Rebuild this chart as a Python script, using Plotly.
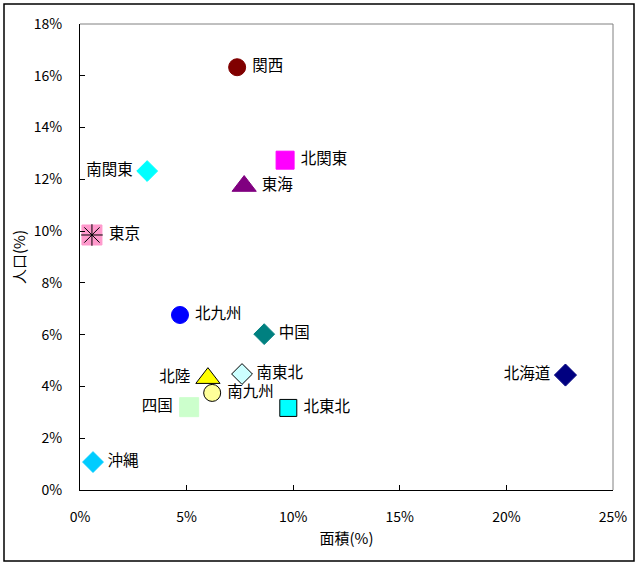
import plotly.graph_objects as go

regions = ["関西", "北関東", "南関東", "東海", "東京", "北九州", "中国", "北陸",
           "南東北", "南九州", "四国", "北東北", "沖縄", "北海道"]
area = [7.37, 9.62, 3.15, 7.7, 0.56, 4.69, 8.64, 6.0, 7.6, 6.2, 5.12, 9.77, 0.61, 22.77]
pop = [16.33, 12.74, 12.32, 11.74, 9.85, 6.76, 6.02, 4.32, 4.48, 3.75, 3.2, 3.17, 1.08, 4.44]
symbols = ["circle", "square", "diamond", "triangle-up", "square", "circle", "diamond",
           "triangle-up", "diamond", "circle", "square", "square", "diamond", "diamond"]
colors = ["#800000", "#FF00FF", "#00FFFF", "#800080", "#FF99CC", "#0000FF", "#008080",
          "#FFFF00", "#CCFFFF", "#FFFF99", "#CCFFCC", "#00FFFF", "#00CCFF", "#000080"]
outline = [None, None, None, None, None, None, None,
           "#000000", "#000000", "#000000", None, "#000000", None, None]
text_pos = ["middle right", "middle right", "middle left", "middle right", "middle right",
            "middle right", "middle right", "middle left", "middle right", "middle right",
            "middle left", "middle right", "middle right", "middle left"]
sizes = [17, 18, 16, 21, 20, 17, 16, 21, 16, 17, 19, 17, 16, 17]

FONT = "Noto Sans CJK JP, sans-serif"
fig = go.Figure()
for i, r in enumerate(regions):
    fig.add_trace(go.Scatter(
        x=[area[i] / 100], y=[pop[i] / 100], mode="markers+text",
        text=[" " + r + " "], textposition=text_pos[i],
        textfont=dict(family=FONT, size=15.5, color="#000000"),
        marker=dict(symbol=symbols[i], color=colors[i], size=sizes[i],
                    line=dict(color=outline[i] or colors[i], width=1)),
        showlegend=False, cliponaxis=False))
    if r == "東京":
        fig.add_trace(go.Scatter(
            x=[area[i] / 100], y=[pop[i] / 100], mode="markers",
            marker=dict(symbol="asterisk-open", size=18, color="#000000",
                        line=dict(color="#000000", width=1)),
            showlegend=False, cliponaxis=False))

fig.update_layout(
    width=640, height=565, margin=dict(l=80, r=27, t=24, b=75),
    paper_bgcolor="white", plot_bgcolor="white",
    font=dict(family=FONT, size=13, color="#000000"),
    xaxis=dict(range=[0, 0.25], dtick=0.05, tickformat=".0%", showgrid=False,
               zeroline=False, showline=True, linecolor="#000000", linewidth=1,
               mirror=False, ticks="inside", ticklen=5, tickcolor="#000000",
               ticklabelstandoff=14,
               title=dict(text="面積(%)", font=dict(size=15), standoff=8),
               tickfont=dict(size=14)),
    yaxis=dict(range=[0, 0.18], dtick=0.02, tickformat=".0%", showgrid=False,
               zeroline=False, showline=True, linecolor="#000000", linewidth=1,
               ticks="inside", ticklen=5, tickcolor="#000000",
               ticklabelstandoff=14,
               title=dict(text="人口(%)", font=dict(size=15), standoff=4),
               tickfont=dict(size=14)),
)
# gray top/right frame of plot area
fig.add_shape(type="line", xref="paper", yref="paper", x0=0, x1=1, y0=1, y1=1,
              line=dict(color="#808080", width=1))
fig.add_shape(type="line", xref="paper", yref="paper", x0=1, x1=1, y0=0, y1=1,
              line=dict(color="#808080", width=1))
# outer chart border
fig.add_shape(type="rect", xref="paper", yref="paper",
              x0=(4 - 80) / 533, x1=(634 - 80) / 533,
              y0=(490 - 561) / 466, y1=(490 - 4) / 466,
              line=dict(color="#000000", width=1.5))
fig.write_html("out.html")
